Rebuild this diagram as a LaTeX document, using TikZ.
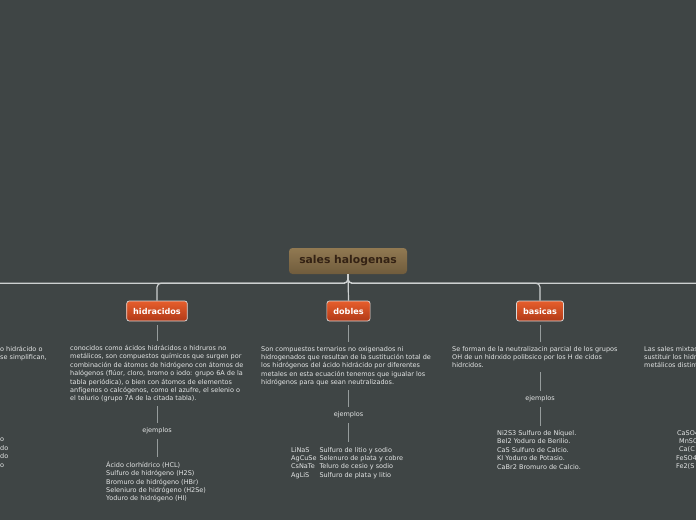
\documentclass[tikz,border=0pt]{standalone}
\usepackage{fontspec}
\setmainfont{DejaVu Sans}
\usetikzlibrary{positioning}
\definecolor{mmback}{RGB}{63,69,69}
\definecolor{mmline}{RGB}{205,208,208}
\definecolor{mmsub}{RGB}{150,156,156}
\definecolor{mmtext}{RGB}{228,230,230}
\definecolor{roottop}{RGB}{145,121,82}
\definecolor{rootbot}{RGB}{112,92,60}
\definecolor{roottxt}{RGB}{52,34,20}
\definecolor{brtop}{RGB}{230,94,44}
\definecolor{brbot}{RGB}{178,58,24}

\tikzset{
  root/.style={rounded corners=3.5pt, top color=roottop, bottom color=rootbot,
    text=roottxt, font=\fontsize{10.8}{12}\selectfont\bfseries,
    minimum width=118pt, minimum height=26pt},
  branch/.style={draw=white!85!black, line width=.7pt, rounded corners=2.5pt,
    top color=brtop, bottom color=brbot, text=white,
    font=\fontsize{8.1}{9}\selectfont\bfseries, minimum height=20pt, inner xsep=6.5pt},
  desc/.style={text=mmtext, align=left, font=\fontsize{6.5}{8.4}\selectfont, inner sep=0pt},
  ejem/.style={text=mmtext, font=\fontsize{6.5}{8}\selectfont, inner sep=1pt},
  conn/.style={draw=mmline, line width=1.2pt, rounded corners=4pt},
  sub/.style={draw=mmsub, line width=.8pt, shorten <=4pt, shorten >=4pt},
}

\begin{document}
\begin{tikzpicture}[x=1pt,y=-1pt]
  \useasboundingbox (0,0) rectangle (696,520);
  \fill[mmback] (0,0) rectangle (696,520);
  \clip (0,0) rectangle (696,520);

  % main topic and branches
  \node[root] (sales) at (348,261) {sales halogenas};
  \node[branch] (hidr) at (157,311) {hidracidos};
  \node[branch] (dobl) at (348.5,311) {dobles};
  \node[branch] (basi) at (540,311) {basicas};
  \coordinate (oxis) at (-40,301);
  \coordinate (mixt) at (736,301);

  \draw[conn] (sales.south) -- ++(0,9) -| (oxis);
  \draw[conn] (sales.south) -- ++(0,9) -| (hidr.north);
  \draw[conn] (sales.south) -- (dobl.north);
  \draw[conn] (sales.south) -- ++(0,9) -| (basi.north);
  \draw[conn] (sales.south) -- ++(0,9) -| (mixt);

  % hidracidos
  \node[desc, anchor=north west] (hidrtxt) at (70,345) {conocidos como ácidos hidrácidos o hidruros no\\
    metálicos, son compuestos químicos que surgen por\\
    combinación de átomos de hidrógeno con átomos de\\
    halógenos (flúor, cloro, bromo o iodo: grupo 6A de la\\
    tabla periódica), o bien con átomos de elementos\\
    anfígenos o calcógenos, como el azufre, el selenio o\\
    el telurio (grupo 7A de la citada tabla).};
  \node[ejem] (hidrej) at (157,431) {ejemplos};
  \node[desc, anchor=north west] (hidrlist) at (106,461) {Ácido clorhídrico (HCL)\\
    Sulfuro de hidrógeno (H2S)\\
    Bromuro de hidrógeno (HBr)\\
    Seleniuro de hidrógeno (H2Se)\\
    Yoduro de hidrógeno (HI)};
  \draw[sub] (hidr.south) -- (hidr.south |- hidrtxt.north);
  \draw[sub] (hidrej |- hidrtxt.south) -- (hidrej);
  \draw[sub] (hidrej) -- (hidrej |- hidrlist.north);

  % dobles
  \node[desc, anchor=north west] (dobltxt) at (261,346) {Son compuestos ternarios no oxigenados ni\\
    hidrogenados que resultan de la sustitución total de\\
    los hidrógenos del ácido hidrácido por diferentes\\
    metales en esta ecuación tenemos que igualar los\\
    hidrógenos para que sean neutralizados.};
  \node[ejem] (doblej) at (348.5,415) {ejemplos};
  \node[desc, anchor=north west] (dobllist) at (291,446) {%
    \begin{tabular}{@{}l@{\hspace{3pt}}l@{}}
      LiNaS & Sulfuro de litio y sodio\\
      AgCuSe & Selenuro de plata y cobre\\
      CsNaTe & Teluro de cesio y sodio\\
      AgLiS & Sulfuro de plata y litio
    \end{tabular}};
  \draw[sub] (dobl.south) -- (dobl.south |- dobltxt.north);
  \draw[sub] (doblej |- dobltxt.south) -- (doblej);
  \draw[sub] (doblej) -- (doblej |- dobllist.north);

  % basicas
  \node[desc, anchor=north west] (basitxt) at (452,346) {Se forman de la neutralizacin parcial de los grupos\\
    OH de un hidrxido polibsico por los H de cidos\\
    hidrcidos.};
  \node[ejem] (basiej) at (540,399) {ejemplos};
  \node[desc, anchor=north west] (basilist) at (497,430) {Ni2S3 Sulfuro de Níquel.\\
    BeI2 Yoduro de Berilio.\\
    CaS Sulfuro de Calcio.\\
    KI Yoduro de Potasio.\\
    CaBr2 Bromuro de Calcio.};
  \draw[sub] (basi.south) -- (basi.south |- basitxt.north);
  \draw[sub] (basiej |- basitxt.south) -- (basiej);
  \draw[sub] (basiej) -- (basiej |- basilist.north);

  % cut at the left and right edges
  \node[desc, anchor=north west] (oxistxt) at (0,346) {o hidrácido o\\se simplifican,};
  \node[desc, anchor=north west] (oxislist) at (0,438) {o\\do\\do\\o};
  \node[desc, anchor=north west] (mixttxt) at (644,346) {Las sales mixtas\\
    sustituir los hidr\\metálicos distint};
  \node[desc, anchor=north west] (mixtlist) at (676,430) {\hspace{1pt}CaSO4\\
    \hspace{3pt}MnSO\\\hspace{3pt}Ca(C\\FeSO4\\Fe2(S};
\end{tikzpicture}
\end{document}
